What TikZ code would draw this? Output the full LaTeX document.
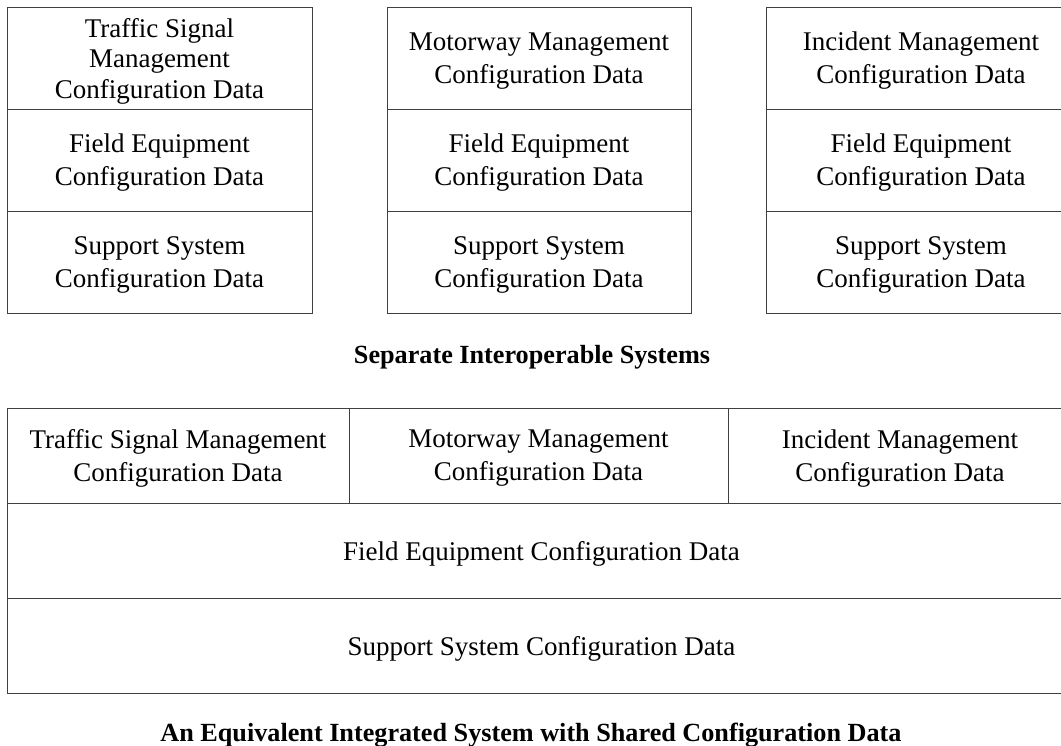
\documentclass[tikz,border=0pt]{standalone}
\usepackage{fontspec}
\setmainfont{Liberation Serif}

\tikzset{
  cell/.style={
    rectangle,
    draw=black!75,
    line width=1pt,
    inner sep=2pt,
    text centered,
    align=center,
    text depth=-1pt,
    font=\fontsize{27}{33}\selectfont
  },
  topcell/.style={cell, minimum width=305pt, minimum height=102pt},
  lowcell/.style={cell, minimum height=95pt},
  caption/.style={
    inner sep=0pt,
    font=\fontsize{26.2}{30}\selectfont\bfseries
  },
}

\begin{document}
\begin{tikzpicture}[x=1pt, y=-1pt]
  \useasboundingbox (0,0) rectangle (1061,745);
  \clip (0,0) rectangle (1061,745);
  % separate systems
  \node[topcell, anchor=center, font=\fontsize{27}{30.5}\selectfont] (ts) at (159.5, 58) {Traffic Signal\\Management\\Configuration Data};
  \node[topcell, anchor=center] (tsfe) at (159.5, 160) {Field Equipment\\Configuration Data};
  \node[topcell, anchor=center] (tsss) at (159.5, 262) {Support System\\Configuration Data};
  \node[topcell, minimum width=304pt, anchor=center] (mw) at (539, 58) {Motorway Management\\Configuration Data};
  \node[topcell, minimum width=304pt, anchor=center] (mwfe) at (539, 160) {Field Equipment\\Configuration Data};
  \node[topcell, minimum width=304pt, anchor=center] (mwss) at (539, 262) {Support System\\Configuration Data};
  \node[topcell, minimum width=310pt, anchor=center] (im) at (921, 58) {Incident Management\\Configuration Data};
  \node[topcell, minimum width=310pt, anchor=center] (imfe) at (921, 160) {Field Equipment\\Configuration Data};
  \node[topcell, minimum width=310pt, anchor=center] (imss) at (921, 262) {Support System\\Configuration Data};
  \node[caption, anchor=base] (sep) at (532, 363) {Separate Interoperable Systems};
  % integrated system
  \node[lowcell, minimum width=342pt, anchor=center] (ts2) at (178, 455.5) {Traffic Signal Management\\Configuration Data};
  \node[lowcell, minimum width=379pt, anchor=center] (mw2) at (538.5, 455.5) {Motorway Management\\Configuration Data};
  \node[lowcell, minimum width=344pt, anchor=center] (im2) at (900, 455.5) {Incident Management\\Configuration Data};
  \node[lowcell, minimum width=1069pt, anchor=center] (fe) at (541.5, 550.5) {Field Equipment Configuration Data};
  \node[lowcell, minimum width=1069pt, anchor=center] (ss) at (541.5, 645.5) {Support System Configuration Data};
  \node[caption, anchor=base] (int) at (531, 741) {An Equivalent Integrated System with Shared Configuration Data};
\end{tikzpicture}
\end{document}
